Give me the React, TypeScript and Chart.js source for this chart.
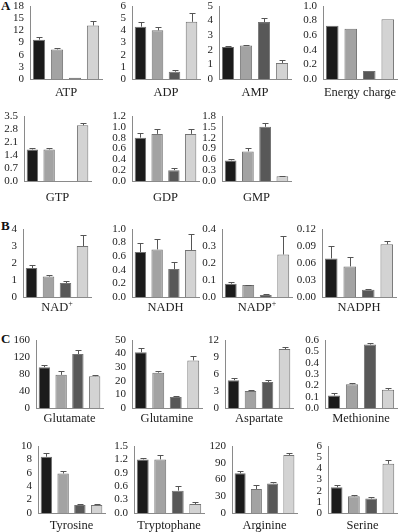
import React, { useEffect, useRef } from "react";
import { Chart, registerables } from "chart.js";
Chart.register(...registerables);

// ---- data ----
const groups = ["1", "2", "3", "4"];
const barColors = ["#1b1b1b", "#a3a3a3", "#585858", "#d3d3d3"];

const atpValues = [9.7, 7.3, 0.3, 13.2];
const atpErrors = [0.6, 0.4, 0, 1.2];
const adpValues = [4.3, 4.0, 0.6, 4.7];
const adpErrors = [0.4, 0.3, 0.1, 0.7];
const ampValues = [2.2, 2.3, 3.9, 1.1];
const ampErrors = [0.07, 0.05, 0.3, 0.2];
const energyValues = [0.73, 0.69, 0.11, 0.82];
const energyErrors = [0, 0, 0, 0];
const gtpValues = [1.7, 1.7, 0, 3.0];
const gtpErrors = [0.08, 0.1, 0, 0.15];
const gdpValues = [0.8, 0.87, 0.2, 0.87];
const gdpErrors = [0.09, 0.09, 0.04, 0.09];
const gmpValues = [0.57, 0.82, 1.5, 0.13];
const gmpErrors = [0.04, 0.09, 0.1, 0.02];
const nadValues = [1.7, 1.2, 0.82, 3.0];
const nadErrors = [0.17, 0.1, 0.1, 0.65];
const nadhValues = [0.66, 0.7, 0.41, 0.69];
const nadhErrors = [0.14, 0.16, 0.11, 0.23];
const nadpValues = [0.078, 0.07, 0.012, 0.25];
const nadpErrors = [0.01, 0.002, 0.004, 0.11];
const nadphValues = [0.068, 0.054, 0.013, 0.093];
const nadphErrors = [0.022, 0.016, 0.002, 0.006];
const glutamateValues = [96, 78, 127, 75];
const glutamateErrors = [5, 9, 9, 3];
const glutamineValues = [41, 26, 8, 35];
const glutamineErrors = [3, 1.5, 0.8, 3];
const aspartateValues = [4.9, 3.0, 4.6, 10.4];
const aspartateErrors = [0.4, 0.2, 0.3, 0.3];
const methionineValues = [0.11, 0.21, 0.56, 0.16];
const methionineErrors = [0.02, 0.015, 0.01, 0.02];
const tyrosineValues = [8.4, 5.9, 1.2, 1.2];
const tyrosineErrors = [0.5, 0.3, 0.2, 0.2];
const tryptophaneValues = [1.2, 1.2, 0.5, 0.2];
const tryptophaneErrors = [0.03, 0.1, 0.1, 0.05];
const arginineValues = [71, 43, 53, 104];
const arginineErrors = [5, 7, 3, 4];
const serineValues = [2.3, 1.5, 1.3, 4.4];
const serineErrors = [0.2, 0.1, 0.1, 0.35];

// ---- layout ----
const rows = [
  { T: 6, B: 79, Ty: 92 },
  { T: 116, B: 181, Ty: 197 },
  { T: 229, B: 297, Ty: 307 },
  { T: 340, B: 408, Ty: 418 },
  { T: 446, B: 513, Ty: 525 },
];

type P = {
  title: string; sup?: string; values: number[]; errors: number[];
  max: number; step: number; dec: number; L: number; R: number; row: number;
};

const panels: P[] = [
  { title: "ATP", values: atpValues, errors: atpErrors, max: 18, step: 3, dec: 0, L: 30, R: 102, row: 0 },
  { title: "ADP", values: adpValues, errors: adpErrors, max: 6, step: 1, dec: 0, L: 132, R: 200, row: 0 },
  { title: "AMP", values: ampValues, errors: ampErrors, max: 5, step: 1, dec: 0, L: 219, R: 291, row: 0 },
  { title: "Energy charge", values: energyValues, errors: energyErrors, max: 1, step: 0.2, dec: 1, L: 323, R: 397, row: 0 },
  { title: "GTP", values: gtpValues, errors: gtpErrors, max: 3.5, step: 0.7, dec: 1, L: 24, R: 91, row: 1 },
  { title: "GDP", values: gdpValues, errors: gdpErrors, max: 1.2, step: 0.2, dec: 1, L: 132, R: 199, row: 1 },
  { title: "GMP", values: gmpValues, errors: gmpErrors, max: 1.8, step: 0.3, dec: 1, L: 222, R: 291, row: 1 },
  { title: "NAD", sup: "+", values: nadValues, errors: nadErrors, max: 4, step: 1, dec: 0, L: 23, R: 91, row: 2 },
  { title: "NADH", values: nadhValues, errors: nadhErrors, max: 1, step: 0.2, dec: 1, L: 132, R: 199, row: 2 },
  { title: "NADP", sup: "+", values: nadpValues, errors: nadpErrors, max: 0.4, step: 0.1, dec: 1, L: 222, R: 292, row: 2 },
  { title: "NADPH", values: nadphValues, errors: nadphErrors, max: 0.12, step: 0.03, dec: 2, L: 322, R: 396, row: 2 },
  { title: "Glutamate", values: glutamateValues, errors: glutamateErrors, max: 160, step: 40, dec: 0, L: 36, R: 103, row: 3 },
  { title: "Glutamine", values: glutamineValues, errors: glutamineErrors, max: 50, step: 10, dec: 0, L: 132, R: 202, row: 3 },
  { title: "Aspartate", values: aspartateValues, errors: aspartateErrors, max: 12, step: 3, dec: 0, L: 225, R: 293, row: 3 },
  { title: "Methionine", values: methionineValues, errors: methionineErrors, max: 0.6, step: 0.1, dec: 1, L: 325, R: 397, row: 3 },
  { title: "Tyrosine", values: tyrosineValues, errors: tyrosineErrors, max: 10, step: 2, dec: 0, L: 38, R: 105, row: 4 },
  { title: "Tryptophane", values: tryptophaneValues, errors: tryptophaneErrors, max: 1.5, step: 0.3, dec: 1, L: 134, R: 204, row: 4 },
  { title: "Arginine", values: arginineValues, errors: arginineErrors, max: 120, step: 30, dec: 0, L: 232, R: 297, row: 4 },
  { title: "Serine", values: serineValues, errors: serineErrors, max: 6, step: 1, dec: 0, L: 328, R: 397, row: 4 },
];

const sectionLabels = [
  { text: "A", y: 6 },
  { text: "B", y: 226 },
  { text: "C", y: 339 },
];

const FONT = "Liberation Serif";
const TICK_PAD = 6;
const TICK_LINE = 12; // px line height of tick labels
const INSET = TICK_LINE / 2 + TICK_PAD; // chart area inset Chart.js reserves top & bottom
const PAD_RIGHT = 3;
const AXIS_W = 40;

const errorBarPlugin = {
  id: "errbars",
  afterDatasetsDraw(chart: any) {
    const ctx = chart.ctx;
    const ys = chart.scales.y;
    chart.data.datasets.forEach((ds: any, di: number) => {
      const meta = chart.getDatasetMeta(di);
      const errs: number[] = ds.errors || [];
      meta.data.forEach((bar: any, i: number) => {
        const e = errs[i];
        if (!e) return;
        const v = ds.data[i];
        const y0 = ys.getPixelForValue(v);
        const y1 = Math.round(ys.getPixelForValue(v + e)) + 0.5;
        const x = Math.round(bar.x) + 0.5;
        ctx.save();
        ctx.strokeStyle = "#555";
        ctx.lineWidth = 1;
        ctx.beginPath();
        ctx.moveTo(x, y0);
        ctx.lineTo(x, y1);
        ctx.moveTo(x - 3, y1);
        ctx.lineTo(x + 3, y1);
        ctx.stroke();
        ctx.restore();
      });
    });
  },
};

function Panel({ p }: { p: P }) {
  const ref = useRef<HTMLCanvasElement>(null);
  const row = rows[p.row];
  const left = p.L - AXIS_W;
  const top = row.T - INSET;
  const width = p.R - p.L + AXIS_W + PAD_RIGHT;
  const height = row.B - row.T + 2 * INSET;

  useEffect(() => {
    const chart = new Chart(ref.current as HTMLCanvasElement, {
      type: "bar",
      data: {
        labels: groups,
        datasets: [
          {
            data: p.values,
            backgroundColor: barColors,
            borderColor: "#737373",
            borderWidth: 1,
            barPercentage: 0.68,
            categoryPercentage: 1,
            errors: p.errors,
          } as any,
        ],
      },
      options: {
        animation: false,
        responsive: false,
        maintainAspectRatio: false,
        devicePixelRatio: 1,
        layout: { padding: { top: 0, right: PAD_RIGHT, bottom: 0, left: 0 } },
        plugins: { legend: { display: false }, tooltip: { enabled: false } },
        scales: {
          x: {
            grid: { display: false, drawTicks: false },
            border: { display: true, color: "#8a8a8a" },
            ticks: { display: false },
            afterFit: (a: any) => { a.height = 0; },
          },
          y: {
            min: 0,
            max: p.max,
            grid: { display: false, drawTicks: false },
            border: { display: true, color: "#8a8a8a" },
            ticks: {
              stepSize: p.step,
              padding: TICK_PAD,
              color: "#222",
              autoSkip: false,
              font: { family: FONT, size: 11, lineHeight: TICK_LINE + "px" },
              callback: (v: any) => Number(v).toFixed(p.dec),
            },
            afterFit: (a: any) => { a.width = AXIS_W; },
          },
        },
      } as any,
      plugins: [errorBarPlugin],
    });
    return () => chart.destroy();
  }, []);

  return (
    <>
      <canvas
        ref={ref}
        width={width}
        height={height}
        style={{ position: "absolute", left, top, width, height }}
      />
      <div
        style={{
          position: "absolute",
          left: (p.L + p.R) / 2 - 60,
          width: 120,
          top: row.Ty - 8,
          height: 16,
          lineHeight: "16px",
          textAlign: "center",
          fontFamily: FONT,
          fontSize: 12.5,
          color: "#222",
          whiteSpace: "nowrap",
        }}
      >
        {p.title}
        {p.sup ? (
          <span style={{ fontSize: 8, position: "relative", top: -5 }}>{p.sup}</span>
        ) : null}
      </div>
    </>
  );
}

export default function App() {
  return (
    <div
      style={{
        position: "absolute",
        left: 0,
        top: 0,
        width: 400,
        height: 532,
        background: "#fff",
        overflow: "hidden",
      }}
    >
      {sectionLabels.map((s) => (
        <div
          key={s.text}
          style={{
            position: "absolute",
            left: 1,
            top: s.y - 7,
            height: 14,
            lineHeight: "14px",
            fontFamily: FONT,
            fontWeight: "bold",
            fontSize: 13,
            color: "#111",
          }}
        >
          {s.text}
        </div>
      ))}
      {panels.map((p) => (
        <Panel key={p.title + (p.sup || "")} p={p} />
      ))}
    </div>
  );
}
